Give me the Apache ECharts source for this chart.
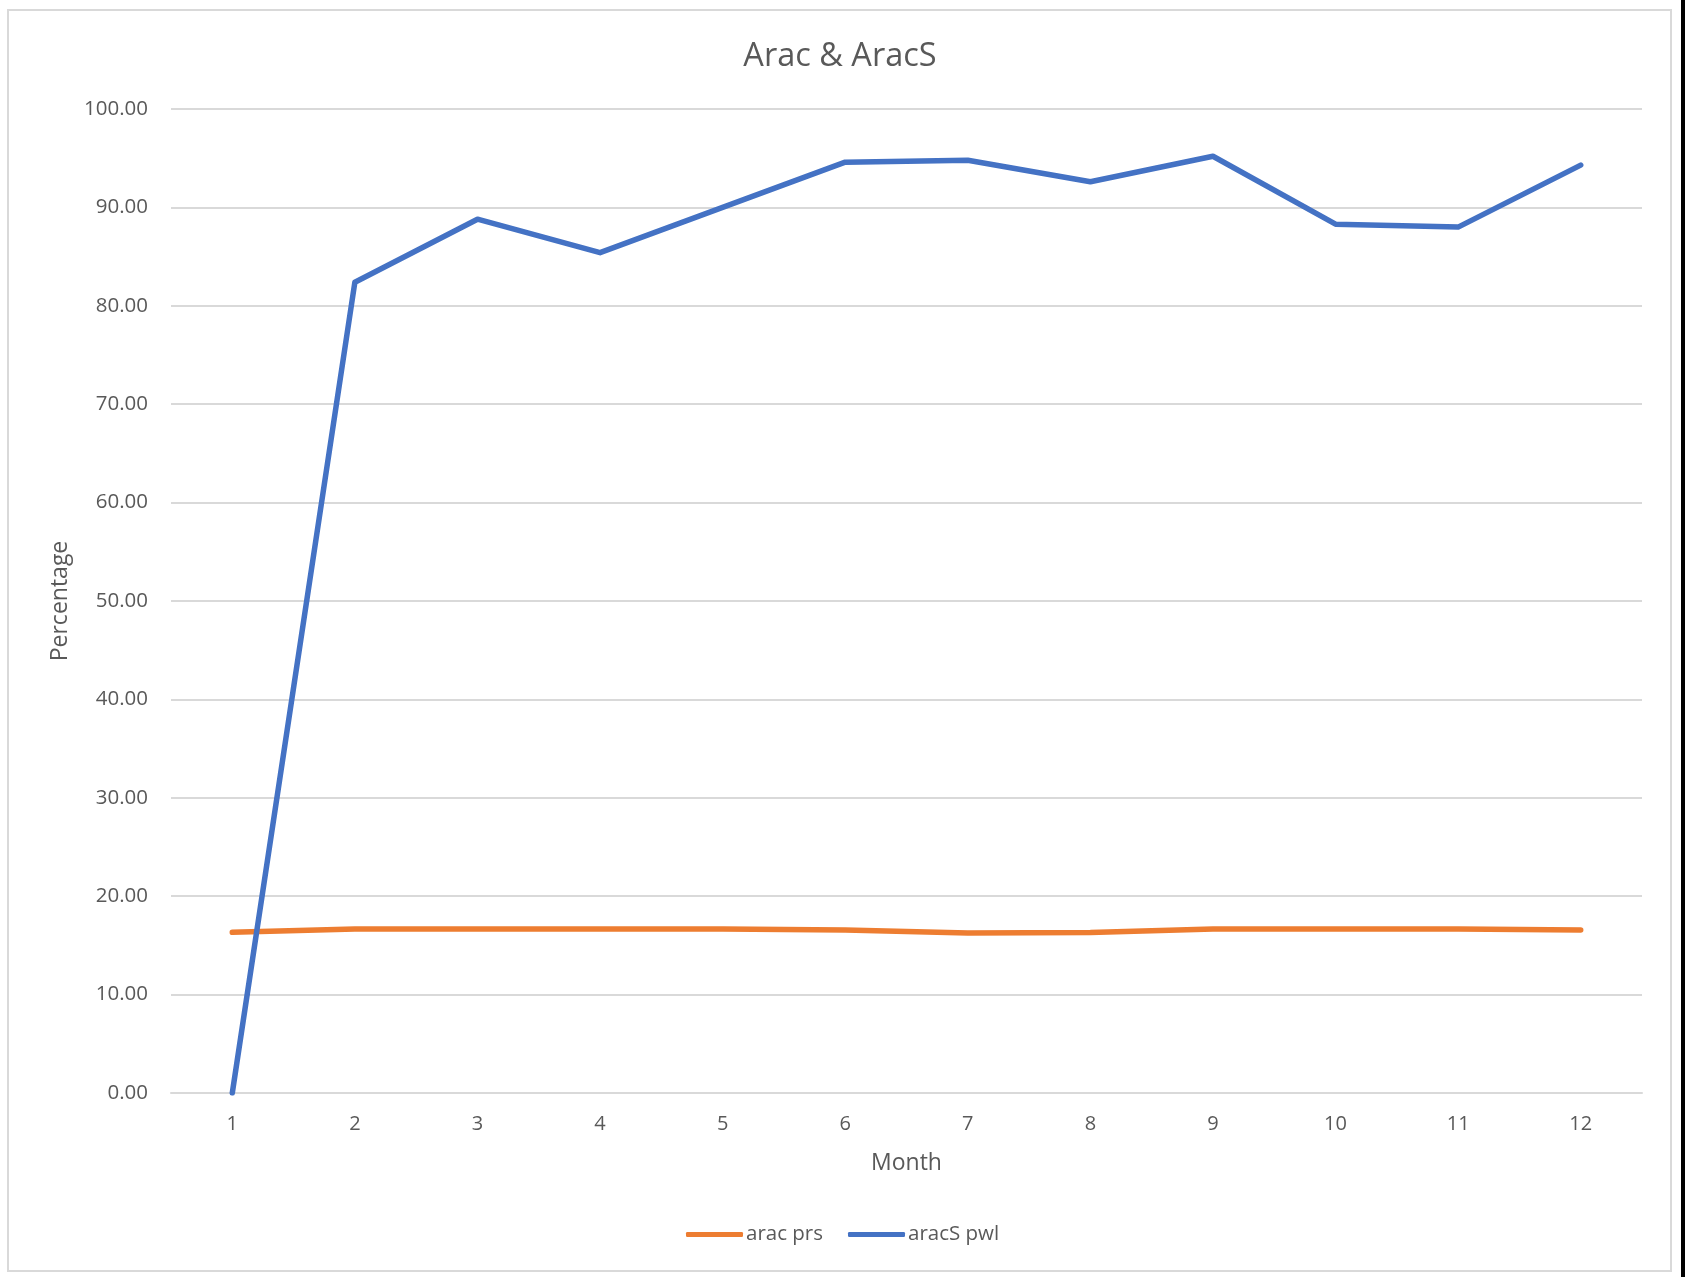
<!DOCTYPE html>
<html>
<head>
<meta charset="utf-8">
<title>Arac &amp; AracS</title>
<script src="https://cdn.jsdelivr.net/npm/echarts@6/dist/echarts.min.js"></script>
<style>
  html, body { margin: 0; padding: 0; background: #fff; }
  #chart { width: 1685px; height: 1277px; }
</style>
</head>
<body>
<div id="chart"></div>
<script>
const months = ['1', '2', '3', '4', '5', '6', '7', '8', '9', '10', '11', '12']
const aracPrs = [16.33, 16.67, 16.67, 16.67, 16.67, 16.57, 16.27, 16.3, 16.67, 16.67, 16.67, 16.57]
const aracSPwl = [0, 82.4, 88.8, 85.4, 90.0, 94.6, 94.8, 92.6, 95.2, 88.3, 88.0, 94.3]
const yTicks = { min: 0, max: 100, interval: 10 }

const textColor = '#595959'
const gridColor = '#d9d9d9'
const font = 'Open Sans'

const chart = echarts.init(document.getElementById('chart'))

chart.setOption({
  animation: false,
  textStyle: { fontFamily: font },
  title: {
    text: 'Arac & AracS',
    left: 835,
    textAlign: 'center',
    top: 35,
    textStyle: { fontFamily: font, fontSize: 32.5, fontWeight: 'normal', color: textColor }
  },
  legend: {
    data: ['arac prs', 'aracS pwl'],
    left: 840 - 159,
    top: 1219,
    itemWidth: 57,
    itemHeight: 5,
    itemGap: 25,
    textStyle: { fontFamily: font, fontSize: 20.5, color: textColor, padding: [0, 0, 0, -2] },
    icon: 'roundRect'
  },
  graphic: [
    {
      type: 'rect',
      shape: { x: 8, y: 10, width: 1663, height: 1261 },
      style: { fill: 'none', stroke: gridColor, lineWidth: 2 },
      silent: true
    },
    {
      type: 'rect',
      shape: { x: 1681, y: 0, width: 4, height: 1277 },
      style: { fill: '#000' },
      silent: true
    }
  ],
  grid: {
    left: 171,
    right: 43,
    top: 109,
    bottom: 184
  },
  xAxis: {
    type: 'category',
    data: months,
    boundaryGap: true,
    name: 'Month',
    nameLocation: 'middle',
    nameGap: 59,
    nameTextStyle: { fontFamily: font, fontSize: 23, color: textColor },
    axisLine: { lineStyle: { color: gridColor, width: 2 } },
    axisTick: { show: false },
    axisLabel: { fontFamily: font, fontSize: 20, color: textColor, margin: 21 }
  },
  yAxis: {
    type: 'value',
    min: yTicks.min,
    max: yTicks.max,
    interval: yTicks.interval,
    name: 'Percentage',
    nameLocation: 'middle',
    nameGap: 99,
    nameTextStyle: { fontFamily: font, fontSize: 23, color: textColor },
    axisLine: { show: false },
    axisTick: { show: false },
    axisLabel: {
      fontFamily: font,
      fontSize: 20.5,
      color: textColor,
      margin: 23,
      formatter: v => v.toFixed(2)
    },
    splitLine: { lineStyle: { color: gridColor, width: 2 } }
  },
  series: [
    {
      name: 'arac prs',
      type: 'line',
      data: aracPrs,
      showSymbol: false,
      symbol: 'none',
      color: '#ED7D31',
      lineStyle: { width: 5.5, cap: 'round', join: 'round' }
    },
    {
      name: 'aracS pwl',
      type: 'line',
      data: aracSPwl,
      showSymbol: false,
      symbol: 'none',
      color: '#4472C4',
      lineStyle: { width: 5.5, cap: 'round', join: 'round' }
    }
  ]
})

window.addEventListener('resize', () => chart.resize())
</script>
</body>
</html>
